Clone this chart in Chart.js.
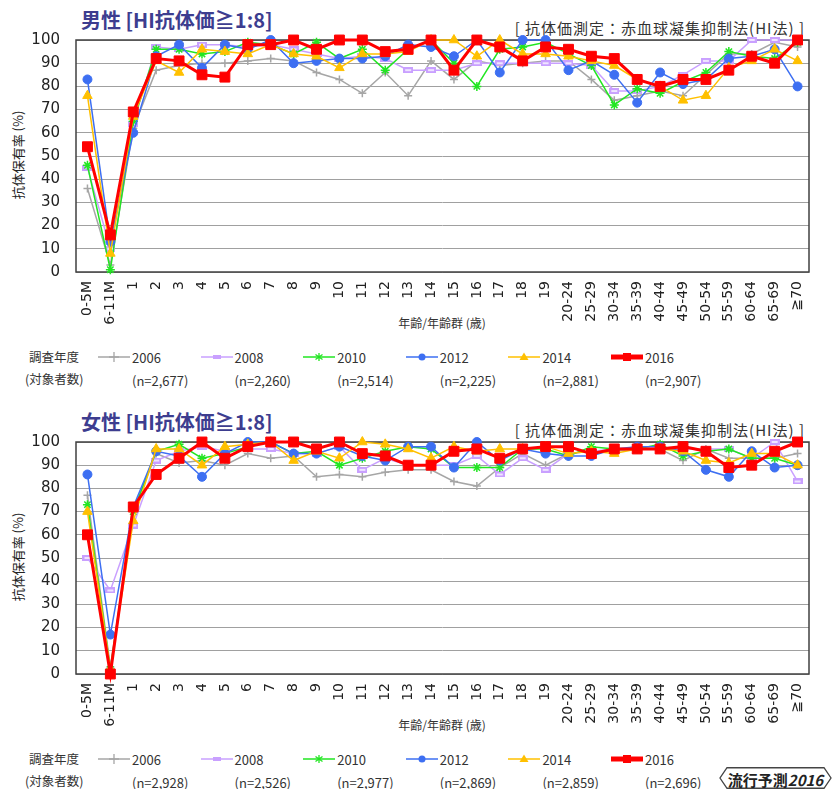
<!DOCTYPE html>
<html>
<head>
<meta charset="utf-8">
<script src="https://cdn.jsdelivr.net/npm/chart.js@4.4.1/dist/chart.umd.min.js"></script>
<style>
  body { margin: 0; width: 832px; height: 789px; position: relative; overflow: hidden; background: #fff;
         font-family: "Noto Sans CJK JP", sans-serif; color: #222; }
  .abs { position: absolute; white-space: nowrap; line-height: 1; }
  .title { font-size: 20px; font-weight: bold; color: #3d3d8f; }
  .note { font-size: 15px; color: #333; letter-spacing: 1px; }
  .ytitle { font-size: 13px; transform: translate(-50%, -50%) rotate(-90deg); }
  .xtitle { font-size: 12px; transform: translate(-50%, -50%); color: #333; }
  .leg { font-size: 12.5px; transform: translateY(-50%); color: #333; }
  .chartbox { position: absolute; left: 0; width: 832px; height: 300px; }
  .badge { position: absolute; left: 719px; top: 767px; width: 113px; height: 22px; }
  .badge span { position: absolute; left: 0; right: 0; top: 2px; text-align: center; font-size: 15px; font-weight: bold; color: #222; }
</style>
</head>
<body>

<div class="abs title" style="left:81px; top:10px;">男性 [HI抗体価≧1:8]</div>
<div class="abs note" style="right:27px; top:20px;">[ 抗体価測定：赤血球凝集抑制法(HI法) ]</div>
<div class="abs ytitle" style="left:17px; top:155px;">抗体保有率 (%)</div>
<div class="abs xtitle" style="left:442px; top:323px;">年齢/年齢群 (歳)</div>
<div class="chartbox" style="top:30px;"><canvas id="maleChart"></canvas></div>
<div id="maleLegend"></div>

<div class="abs title" style="left:81px; top:412px;">女性 [HI抗体価≧1:8]</div>
<div class="abs note" style="right:27px; top:422px;">[ 抗体価測定：赤血球凝集抑制法(HI法) ]</div>
<div class="abs ytitle" style="left:17px; top:557px;">抗体保有率 (%)</div>
<div class="abs xtitle" style="left:442px; top:725px;">年齢/年齢群 (歳)</div>
<div class="chartbox" style="top:432px;"><canvas id="femaleChart"></canvas></div>
<div id="femaleLegend"></div>

<div class="badge">
  <svg width="113" height="22"><polygon points="8,0.75 105,0.75 112,11 105,21.25 8,21.25 1,11" fill="#fff" stroke="#444" stroke-width="1.3"/></svg>
  <span>流行予測<i>2016</i></span>
</div>

<script>
// --- data ---
const ageGroups = ["0-5M", "6-11M", "1", "2", "3", "4", "5", "6", "7", "8", "9", "10", "11", "12", "13", "14",
  "15", "16", "17", "18", "19", "20-24", "25-29", "30-34", "35-39", "40-44", "45-49", "50-54", "55-59",
  "60-64", "65-69", "≧70"];
const surveyYears = ["2006", "2008", "2010", "2012", "2014", "2016"];

const maleCounts = ["(n=2,677)", "(n=2,260)", "(n=2,514)", "(n=2,225)", "(n=2,881)", "(n=2,907)"];
const male2006 = [36, 3, 62, 87, 89, 90, 90, 91, 92, 91, 86, 83, 77, 86, 76, 91, 83, 91, 89, 90, 91, 91, 83, 74, 76, 78, 76, 85, 94, 94, 99, 97];
const male2008 = [45, 10, 64, 97, 96, 98, 98, 97, 98, 96, 94, 92, 93, 92, 87, 87, 87, 90, 90, 90, 90, 90, 89, 78, 78, 80, 85, 91, 91, 100, 100, 100];
const male2010 = [46, 1, 65, 96, 96, 94, 95, 99, 98, 94, 99, 92, 96, 87, 96, 100, 90, 80, 96, 97, 99, 94, 89, 72, 79, 77, 82, 86, 95, 93, 92, 99];
const male2012 = [83, 13, 60, 93, 98, 88, 98, 96, 100, 90, 91, 92, 92, 93, 98, 97, 93, 100, 86, 100, 100, 87, 91, 85, 73, 86, 81, 83, 92, 93, 96, 80];
const male2014 = [76, 8, 67, 91, 86, 96, 95, 94, 98, 94, 93, 88, 94, 94, 95, 100, 100, 93, 100, 94, 94, 93, 91, 89, 83, 80, 74, 76, 88, 91, 96, 91];
const male2016 = [54, 16, 69, 92, 91, 85, 84, 98, 98, 100, 96, 100, 100, 95, 96, 100, 87, 100, 97, 91, 97, 96, 93, 92, 83, 80, 83, 83, 87, 93, 90, 100];

const femaleCounts = ["(n=2,928)", "(n=2,526)", "(n=2,977)", "(n=2,869)", "(n=2,859)", "(n=2,696)"];
const female2006 = [77, 3, 70, 95, 91, 92, 90, 95, 93, 94, 85, 86, 85, 87, 88, 88, 83, 81, 89, 95, 90, 95, 96, 96, 97, 97, 92, 97, 93, 93, 93, 95];
const female2008 = [50, 36, 64, 92, 96, 98, 96, 97, 97, 95, 95, 98, 88, 93, 90, 90, 90, 94, 86, 93, 88, 95, 96, 97, 97, 97, 97, 97, 97, 93, 100, 83];
const female2010 = [73, 2, 70, 96, 99, 93, 95, 98, 100, 95, 96, 90, 93, 96, 98, 97, 89, 89, 89, 97, 97, 94, 98, 97, 97, 99, 94, 96, 97, 93, 93, 90];
const female2012 = [86, 17, 72, 96, 94, 85, 95, 100, 100, 95, 95, 98, 94, 92, 98, 98, 89, 100, 92, 97, 95, 94, 94, 97, 98, 98, 96, 88, 85, 96, 89, 90];
const female2014 = [70, 2, 66, 97, 97, 90, 98, 99, 100, 92, 96, 93, 100, 99, 97, 93, 98, 96, 97, 97, 98, 95, 96, 95, 97, 97, 96, 92, 91, 95, 95, 90];
const female2016 = [60, 0, 72, 86, 93, 100, 93, 98, 100, 100, 97, 100, 95, 94, 90, 90, 96, 97, 93, 97, 98, 98, 95, 97, 97, 97, 98, 96, 89, 90, 96, 100];

// --- series styles (2006 .. 2016) ---
const lineColors = ["#a6a6a6", "#c9a0ff", "#22e622", "#3d6ff2", "#ffc000", "#ff0000"];
const lineWidths = [1.5, 1.5, 1.5, 1.5, 1.5, 3];

// purple marker is a small hollow bar
const purpleMark = document.createElement("canvas");
purpleMark.width = 10; purpleMark.height = 6;
(() => {
  const c = purpleMark.getContext("2d");
  c.fillStyle = "#c9a0ff"; c.fillRect(0, 0, 10, 6);
  c.fillStyle = "#efe4ff"; c.fillRect(2, 2, 6, 2);
})();
const pointStyles = ["cross", purpleMark, "star", "circle", "triangle", "rect"];
const pointRadii = [4, 5, 4.5, 4.5, 5.5, 7];

const frame = {
  id: "frame",
  beforeDatasetsDraw(chart) {
    const { ctx, chartArea: a } = chart;
    ctx.save();
    ctx.strokeStyle = "#404040";
    ctx.lineWidth = 1.5;
    ctx.strokeRect(a.left, a.top, a.right - a.left, a.bottom - a.top);
    ctx.restore();
  }
};

function makeChart(canvasId, series) {
  const datasets = series.map((values, i) => ({
    label: surveyYears[i],
    data: values,
    borderColor: lineColors[i],
    backgroundColor: lineColors[i],
    borderWidth: lineWidths[i],
    pointStyle: pointStyles[i],
    pointRadius: pointRadii[i],
    pointBorderWidth: i === 0 || i === 2 ? 1.5 : 1,
    pointBorderColor: lineColors[i],
    pointBackgroundColor: lineColors[i],
    tension: 0,
    clip: false,
    order: series.length - 1 - i
  }));

  return new Chart(document.getElementById(canvasId), {
    type: "line",
    data: { labels: ageGroups, datasets },
    options: {
      responsive: true,
      maintainAspectRatio: false,
      animation: false,
      layout: { autoPadding: false, padding: { top: 10, right: 23, left: 0, bottom: 0 } },
      plugins: { legend: { display: false }, tooltip: { enabled: false }, title: { display: false } },
      scales: {
        x: {
          offset: true,
          grid: { display: false, drawTicks: false },
          border: { display: false },
          ticks: {
            autoSkip: false, maxRotation: 90, minRotation: 90, padding: 9,
            color: "#222", font: { family: "DejaVu Sans", size: 14 }
          },
          afterFit: s => { s.height = 58; s.paddingLeft = 0; s.paddingRight = 0; }
        },
        y: {
          min: 0, max: 100,
          grid: { color: "#a0a0a0", lineWidth: 1, drawTicks: false },
          border: { display: false },
          ticks: { stepSize: 10, padding: 16, color: "#222", font: { family: "DejaVu Sans", size: 15 } },
          // fixed width, and no extra room above/below for the end labels
          afterFit: s => { s.width = 76; s.paddingTop = 0; s.paddingBottom = 0; }
        }
      }
    },
    plugins: [frame]
  });
}

makeChart("maleChart", [male2006, male2008, male2010, male2012, male2014, male2016]);
makeChart("femaleChart", [female2006, female2008, female2010, female2012, female2014, female2016]);

// --- legend (html) ---
function markerSvg(i) {
  const c = lineColors[i];
  const w = lineWidths[i] === 3 ? 5 : 1.5;
  let mark = "";
  if (i === 0) mark = `<path d="M16 3 V13 M11 8 H21" stroke="${c}" stroke-width="1.3"/>`;
  if (i === 1) mark = `<rect x="12" y="6" width="8" height="4" fill="${c}"/>`;
  if (i === 2) mark = `<path d="M16 4 V12 M12.5 5.5 L19.5 10.5 M19.5 5.5 L12.5 10.5" stroke="${c}" stroke-width="1.3"/>`;
  if (i === 3) mark = `<circle cx="16" cy="8" r="3.5" fill="${c}"/>`;
  if (i === 4) mark = `<polygon points="16,3.5 20.5,11 11.5,11" fill="${c}"/>`;
  if (i === 5) mark = `<rect x="12" y="4" width="8" height="8" fill="${c}"/>`;
  return `<svg width="32" height="16"><line x1="0" y1="8" x2="32" y2="8" stroke="${c}" stroke-width="${w}"/>${mark}</svg>`;
}

function buildLegend(id, counts, y) {
  let html = `<div class="abs leg" style="left:29px; top:${y}px;">調査年度</div>`;
  html += `<div class="abs leg" style="left:25px; top:${y + 22}px;">(対象者数)</div>`;
  surveyYears.forEach((yr, i) => {
    const x = 98 + i * 102.6;
    html += `<div class="abs" style="left:${x}px; top:${y - 8}px;">${markerSvg(i)}</div>`;
    html += `<div class="abs leg" style="left:${x + 34}px; top:${y}px; font-size:13px;">${yr}</div>`;
    html += `<div class="abs leg" style="left:${x + 34}px; top:${y + 23}px; font-size:13px;">${counts[i]}</div>`;
  });
  document.getElementById(id).innerHTML = html;
}

buildLegend("maleLegend", maleCounts, 357);
buildLegend("femaleLegend", femaleCounts, 759);
</script>
</body>
</html>
